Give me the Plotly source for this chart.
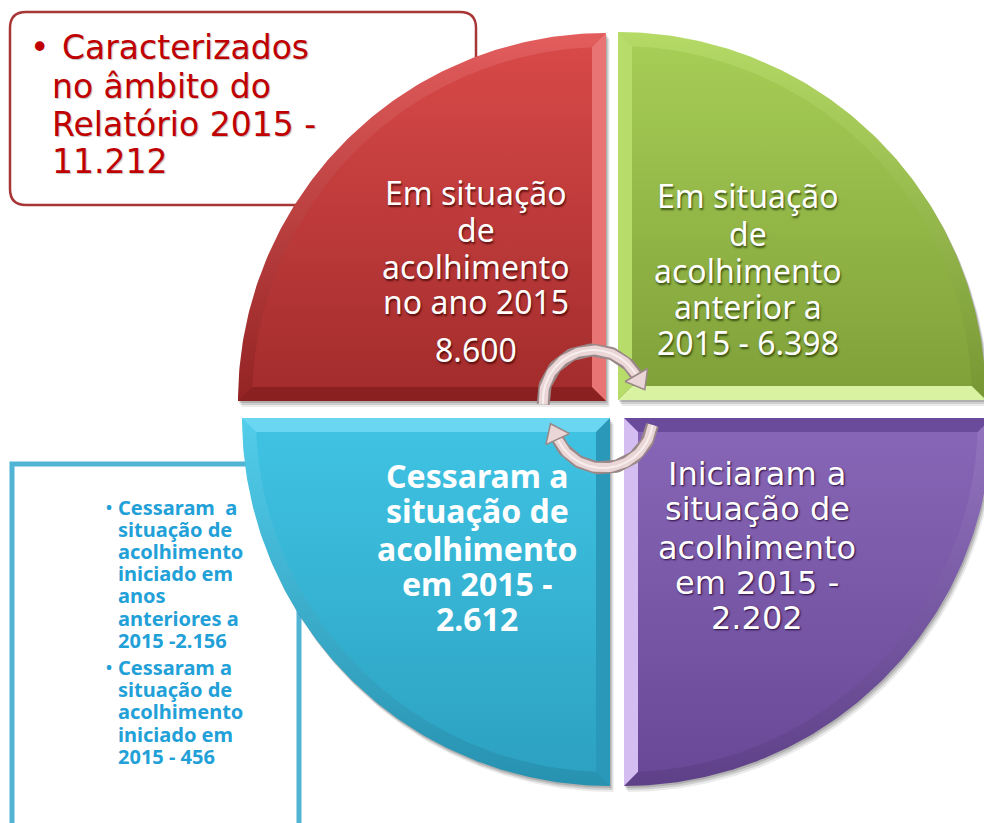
"""
Acolhimento 2015 - quadrant diagram (four bevelled quarter circles with
cycle arrows and two side text boxes), drawn in pixel coordinates.
"""

import numpy as np
import plotly.graph_objects as go

W, H = 984, 823

# ---- data -----------------------------------------------------------------
TOTAL_LABEL = ["Caracterizados", "no âmbito do", "Relatório 2015 -", "{v}"]
TOTAL_VALUE = 11212

QUADRANT_TEXT = [
    ["Em situação", "de", "acolhimento", "no ano 2015", "{v}"],
    ["Em situação", "de", "acolhimento", "anterior a", "2015 - {v}"],
    ["Cessaram a", "situação de", "acolhimento", "em 2015 -", "{v}"],
    ["Iniciaram a", "situação de", "acolhimento", "em 2015 -", "{v}"],
]
QUADRANT_VALUES = [8600, 6398, 2612, 2202]

CESSARAM_TEXT = [
    ["Cessaram  a", "situação de", "acolhimento", "iniciado em", "anos",
     "anteriores a", "2015 -{v}"],
    ["Cessaram a", "situação de", "acolhimento", "iniciado em", "2015 - {v}"],
]
CESSARAM_VALUES = [2156, 456]


def pt(n):
    # Portuguese thousands separator
    return f"{n:,}".replace(",", ".")


# ---- geometry / styling ---------------------------------------------------
R = 368       # quarter circle radius (px)
BEVEL = 14    # bevel rim width (px)

QUADS = [
    # red, top-left
    dict(corner=(606, 401), sx=-1, sy=-1,
         inner=("#da4a4a", "#a22b2b"), rim=("#e35d5d", "#932323"),
         v_col="#e87474", h_col="#8a2020"),
    # green, top-right
    dict(corner=(618, 400), sx=1, sy=-1,
         inner=("#a8cf57", "#7f9f38"), rim=("#b5da66", "#769633"),
         v_col="#b7dc6a", h_col="#d9f2a2"),
    # blue, bottom-left
    dict(corner=(610, 418), sx=-1, sy=1,
         inner=("#40c4e4", "#2ca0c0"), rim=("#52cdea", "#2791b0"),
         v_col="#2a98b8", h_col="#6ad6f2"),
    # purple, bottom-right
    dict(corner=(624, 418), sx=1, sy=1,
         inner=("#8967b8", "#684896"), rim=("#9274c0", "#5e4088"),
         v_col="#d4bdf0", h_col="#6a4a9a"),
]

TEXT_BLOCKS = [
    dict(x=476, ys=[192, 229, 266, 301, 349], size=32, family="Noto Sans",
         shadow="1px 2px 2px rgba(60,0,0,0.75)"),
    dict(x=748, ys=[195, 233, 270, 306, 342], size=32, family="Noto Sans",
         shadow="1px 2px 2px rgba(30,50,0,0.75)"),
    dict(x=477, ys=[475, 510, 548, 583, 618], size=32, family="Noto Sans",
         bold=True, shadow="none"),
    dict(x=757, ys=[474, 509, 548, 583, 618], size=32, family="DejaVu Sans",
         shadow="1px 1px 2px rgba(30,0,50,0.9)"),
]


def quarter(cx, cy, sx, sy, r, inset=0.0, n=120):
    ri = r - inset
    t0 = np.arcsin(inset / ri) if inset else 0.0
    t = np.linspace(t0, np.pi / 2 - t0, n)
    xs = [cx + sx * inset] + list(cx + sx * ri * np.cos(t)) + [cx + sx * inset]
    ys = [cy + sy * inset] + list(cy + sy * ri * np.sin(t)) + [cy + sy * inset]
    return xs, ys


def poly(fig, xs, ys, color=None, grad=None):
    kw = dict(x=xs, y=ys, mode="lines", fill="toself",
              line=dict(width=0, color="rgba(0,0,0,0)"),
              hoverinfo="skip", showlegend=False)
    if grad:
        top, bot, y0, y1 = grad
        kw["fillgradient"] = dict(type="vertical", colorscale=[[0, top], [1, bot]],
                                  start=y0, stop=y1)
    else:
        kw["fillcolor"] = color
    fig.add_trace(go.Scatter(**kw))


fig = go.Figure()

# side boxes (behind the circle)
bx0, by0, bx1, by1, rr = 10, 12, 476, 205, 16
box_path = (f"M {bx0+rr} {by0} L {bx1-rr} {by0} Q {bx1} {by0} {bx1} {by0+rr} "
            f"L {bx1} {by1-rr} Q {bx1} {by1} {bx1-rr} {by1} L {bx0+rr} {by1} "
            f"Q {bx0} {by1} {bx0} {by1-rr} L {bx0} {by0+rr} Q {bx0} {by0} {bx0+rr} {by0} Z")
fig.add_shape(type="path", path=box_path, layer="below",
              line=dict(color="#a83636", width=2.5), fillcolor="white")
fig.add_shape(type="path", path="M 12 900 L 12 464 L 299 464 L 299 900",
              layer="below", line=dict(color="#52b4d4", width=5))

# quadrants: shadow, rim, straight-edge bevels, inner face
for q in QUADS:
    cx, cy = q["corner"]
    sx, sy = q["sx"], q["sy"]
    ytop, ybot = min(cy, cy + sy * R), max(cy, cy + sy * R)

    for off, a in [(6, 0.08), (4, 0.12), (2, 0.15)]:
        xs, ys = quarter(cx + off * 0.6, cy + off, sx, sy, R)
        poly(fig, xs, ys, color=f"rgba(0,0,0,{a})")

    xs, ys = quarter(cx, cy, sx, sy, R)
    poly(fig, xs, ys, grad=(q["rim"][0], q["rim"][1], ytop, ybot))

    d = np.sqrt((R - BEVEL) ** 2 - BEVEL ** 2)
    # horizontal edge strip
    poly(fig, [cx, cx + sx * R, cx + sx * d, cx + sx * BEVEL, cx],
         [cy, cy, cy + sy * BEVEL, cy + sy * BEVEL, cy], color=q["h_col"])
    # vertical edge strip
    poly(fig, [cx, cx, cx + sx * BEVEL, cx + sx * BEVEL, cx],
         [cy, cy + sy * R, cy + sy * d, cy + sy * BEVEL, cy], color=q["v_col"])

    xs, ys = quarter(cx, cy, sx, sy, R, inset=BEVEL)
    poly(fig, xs, ys, grad=(q["inner"][0], q["inner"][1], ytop, ybot))


# cycle arrows
def arrow(fig, cx, cy, r, a0, a1, down):
    t = np.radians(np.linspace(a0, a1, 80))
    sgn = 1 if down else -1
    xs = cx + r * np.cos(t)
    ys = cy + sgn * r * np.sin(t)
    fig.add_trace(go.Scatter(x=xs, y=ys, mode="lines", hoverinfo="skip", showlegend=False,
                             line=dict(color="#9a8888", width=13)))
    fig.add_trace(go.Scatter(x=xs, y=ys, mode="lines", hoverinfo="skip", showlegend=False,
                             line=dict(color="#ead6d6", width=9)))
    fig.add_trace(go.Scatter(x=xs, y=ys, mode="lines", hoverinfo="skip", showlegend=False,
                             line=dict(color="#f8eeee", width=2)))
    # arrowhead at a1
    te = t[-1]
    bx, by = xs[-1], ys[-1]
    dx, dy = (t[-1] - t[-2]) * -r * np.sin(te), (t[-1] - t[-2]) * sgn * r * np.cos(te)
    L = np.hypot(dx, dy)
    ux, uy = dx / L, dy / L
    px, py = -uy, ux
    hw, hl = 13, 17
    hx = [bx + px * hw, bx + ux * hl, bx - px * hw, bx + px * hw]
    hy = [by + py * hw, by + uy * hl, by - py * hw, by + py * hw]
    fig.add_trace(go.Scatter(x=hx, y=hy, mode="lines", fill="toself", fillcolor="#ead6d6",
                             line=dict(color="#9a8888", width=1.5),
                             hoverinfo="skip", showlegend=False))


arrow(fig, 593, 400, 50, 185, 30, down=False)
arrow(fig, 603, 418, 50, 8, 155, down=True)

# ---- text -------------------------------------------------------------------
# top-left box
tl_y = [47, 86, 124, 161]
fig.add_annotation(x=28, y=tl_y[0], text="•", showarrow=False, xanchor="left",
                   yanchor="middle", font=dict(family="DejaVu Sans", size=33, color="#c00000"))
for i, line in enumerate(TOTAL_LABEL):
    fig.add_annotation(x=60 if i == 0 else 50, y=tl_y[i], text=line.format(v=pt(TOTAL_VALUE)),
                       showarrow=False, xanchor="left", yanchor="middle",
                       font=dict(family="DejaVu Sans", size=33, color="#c00000",
                                 shadow="1px 1px 1px rgba(0,0,0,0.25)"))

# quadrant labels
for lines, val, blk in zip(QUADRANT_TEXT, QUADRANT_VALUES, TEXT_BLOCKS):
    fam = blk["family"]
    for line, y in zip(lines, blk["ys"]):
        txt = line.format(v=pt(val))
        if blk.get("bold"):
            txt = f"<b>{txt}</b>"
        fig.add_annotation(x=blk["x"], y=y, text=txt, showarrow=False,
                           xanchor="center", yanchor="middle",
                           font=dict(family=fam, size=blk["size"], color="#ffffff",
                                     shadow=blk["shadow"]))

# bottom-left box
y = 507
for lines, val in zip(CESSARAM_TEXT, CESSARAM_VALUES):
    fig.add_annotation(x=104, y=y, text="<b>•</b>", showarrow=False, xanchor="left",
                       yanchor="middle", font=dict(family="Noto Sans", size=16, color="#22a0d8"))
    for line in lines:
        fig.add_annotation(x=116, y=y, text=f"<b>{line.format(v=pt(val))}</b>",
                           showarrow=False, xanchor="left", yanchor="middle",
                           font=dict(family="Noto Sans", size=20, color="#22a0d8"))
        y += 22.2
    y += 5

fig.update_layout(
    width=W, height=H,
    margin=dict(l=0, r=0, t=0, b=0),
    paper_bgcolor="white", plot_bgcolor="white",
    xaxis=dict(range=[0, W], visible=False, fixedrange=True),
    yaxis=dict(range=[H, 0], visible=False, fixedrange=True),
    showlegend=False,
)

# drop the default 8px page margin so pixel coordinates line up with the window
fig.write_html("out.html", config={"displayModeBar": False},
               post_script="document.body.style.margin='0px';")
